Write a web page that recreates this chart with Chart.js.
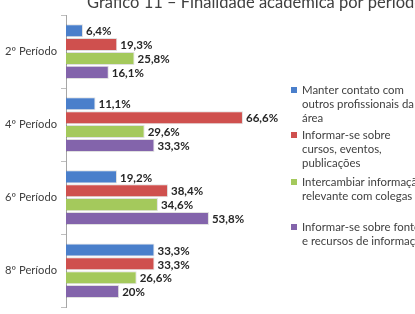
<!DOCTYPE html>
<html>
<head>
<meta charset="utf-8">
<script src="https://cdn.jsdelivr.net/npm/chart.js@4/dist/chart.umd.min.js"></script>
<style>
    html, body { margin: 0; padding: 0; background: #fff; overflow: hidden; }
    #wrap { position: relative; width: 415px; height: 318px; }
</style>
</head>
<body>
<div id="wrap"><canvas id="periodChart"></canvas></div>
<script>
const chartTitle = 'Gráfico 11 – Finalidade acadêmica por período';
const periods = ['2º Período', '4º Período', '6º Período', '8º Período'];

// legend text, already split in lines like the original
const seriesNames = [
    ['Manter contato com', 'outros profissionais da', 'área'],
    ['Informar-se sobre', 'cursos, eventos,', 'publicações'],
    ['Intercambiar informação', 'relevante com colegas'],
    ['Informar-se sobre fontes', 'e recursos de informação'],
];
const seriesColors = ['#4a7fcb', '#cf504e', '#a4c95c', '#8364ab'];

const contato = [6.4, 11.1, 19.2, 33.3];
const eventos = [19.3, 66.6, 38.4, 33.3];
const colegas = [25.8, 29.6, 34.6, 26.6];
const fontes = [16.1, 33.3, 53.8, 20];

const FONT = 'Lato, "Open Sans", sans-serif';

const fmtPct = (v) => String(v).replace('.', ',') + '%';

const valueLabels = {
    id: 'valueLabels',
    afterDatasetsDraw(chart) {
        const ctx = chart.ctx;
        ctx.save();
        ctx.font = 'bold 11.5px ' + FONT;
        ctx.fillStyle = '#262626';
        ctx.textAlign = 'left';
        ctx.textBaseline = 'middle';
        chart.data.datasets.forEach((ds, i) => {
            chart.getDatasetMeta(i).data.forEach((bar, j) => {
                ctx.fillText(fmtPct(ds.data[j]), bar.x + 3, bar.y + 1);
            });
        });
        ctx.restore();
    }
};

const sideLegend = {
    id: 'sideLegend',
    afterDraw(chart) {
        const ctx = chart.ctx;
        ctx.save();
        // title, cut at the top like in the source image
        ctx.font = '16.5px ' + FONT;
        ctx.fillStyle = '#404040';
        ctx.textBaseline = 'alphabetic';
        ctx.fillText(chartTitle, 87, 8);

        ctx.font = '11.4px ' + FONT;
        ctx.textBaseline = 'middle';
        const itemTops = [90, 135, 182, 227];
        seriesNames.forEach((lines, i) => {
            const y0 = itemTops[i];
            ctx.fillStyle = seriesColors[i];
            ctx.fillRect(291, y0 - 3, 6, 6);
            ctx.fillStyle = '#404040';
            lines.forEach((line, k) => ctx.fillText(line, 302, y0 + k * 14));
        });
        ctx.restore();
    }
};

const ctx = document.getElementById('periodChart').getContext('2d');
new Chart(ctx, {
    type: 'bar',
    data: {
        labels: periods,
        datasets: [contato, eventos, colegas, fontes].map((data, i) => ({
            label: seriesNames[i].join(' '),
            data: data,
            backgroundColor: seriesColors[i],
            borderColor: 'rgba(0,0,0,0.12)',
            borderWidth: 1,
            categoryPercentage: 0.76,
            barPercentage: 0.94,
        })),
    },
    options: {
        indexAxis: 'y',
        responsive: true,
        maintainAspectRatio: false,
        animation: false,
        layout: { padding: { top: 15, right: 163, bottom: 0, left: 0 } },
        scales: {
            x: {
                display: false,
                min: 0,
                max: 70,
            },
            y: {
                afterFit: (scale) => { scale.width = 66; },
                border: { color: '#a6a6a6' },
                grid: {
                    drawOnChartArea: false,
                    tickLength: 5,
                    color: '#bfbfbf',
                },
                ticks: {
                    padding: 4,
                    color: '#404040',
                    font: { family: FONT, size: 11.2 },
                },
            },
        },
        plugins: {
            legend: { display: false },
            tooltip: { enabled: false },
        },
    },
    plugins: [valueLabels, sideLegend],
});
</script>
</body>
</html>
